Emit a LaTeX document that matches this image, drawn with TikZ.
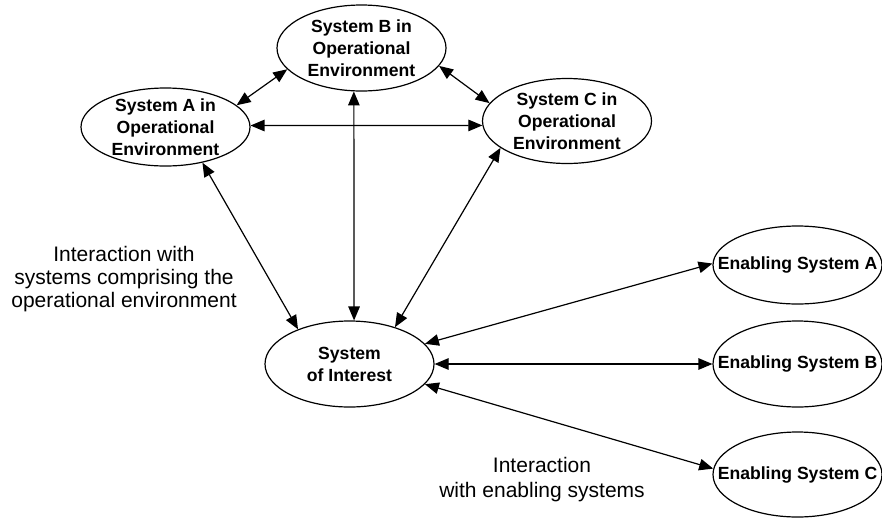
\documentclass[tikz,border=0pt]{standalone}
\usepackage{fontspec}
\setmainfont{Liberation Sans}
\usepackage{tikz}
\usetikzlibrary{arrows.meta}
\usetikzlibrary{positioning}
\usetikzlibrary{shapes}
\tikzset{
    arrow/.style={<->, >={Triangle[length=14pt, width=11.5pt]}, line width=1.2pt},
    oval/.style = {
      ellipse,
      draw,
      line width=1.2pt,
      minimum width=169pt,
      minimum height=86pt,
      inner xsep=-90pt,
      inner ysep=-50pt,
      align=center,
      font=\fontsize{17.6}{22}\selectfont\bfseries
    },
    note/.style = {
      align=center,
      font=\fontsize{21}{23}\selectfont
    },
}
\begin{document}
\begin{tikzpicture}[node distance=0pt, on grid]
      \useasboundingbox (0,0) rectangle (882pt,-517pt);

      \node [oval] (interest) at (349.5pt,-364pt) {System\\of Interest};
      \node [oval, above right=316pt and 12pt of interest] (sysb)
            {System B in\\Operational\\Environment};
      \node [oval, minimum height=78pt, below left=79pt and 196pt of sysb] (sysa)
            {System A in\\Operational\\Environment};
      \node [oval, minimum height=85pt, below right=73pt and 205.5pt of sysb] (sysc)
            {System C in\\Operational\\Environment};

      \node [oval, right=448pt of interest] (enableb) {Enabling System B};
      \node [oval, minimum height=78pt, above=99pt of enableb] (enablea) {Enabling System A};
      \node [oval, minimum height=85pt, below=110.5pt of enableb] (enablec) {Enabling System C};

      \node [note, below left=152pt and 41.5pt of sysa] (opnote)
            {Interaction with\\systems comprising the\\operational environment};
      \node [note, font=\fontsize{21}{25}\selectfont, below right=116pt and 192.5pt of interest] (ennote)
            {Interaction\\with enabling systems};

      \path[arrow] (sysa.17) edge (sysb.196)
            (sysb.-13) edge (sysc.167)
            (sysa.1) edge (sysc.183)
            (sysb.260) edge (interest.84)
            (sysa.-44) edge (interest.146)
            (sysc.202) edge (interest.39)
            (interest.15) edge (enablea.179)
            (interest.east) edge (enableb.west)
            (interest.-15) edge (enablec.176);
    \end{tikzpicture}
\end{document}
